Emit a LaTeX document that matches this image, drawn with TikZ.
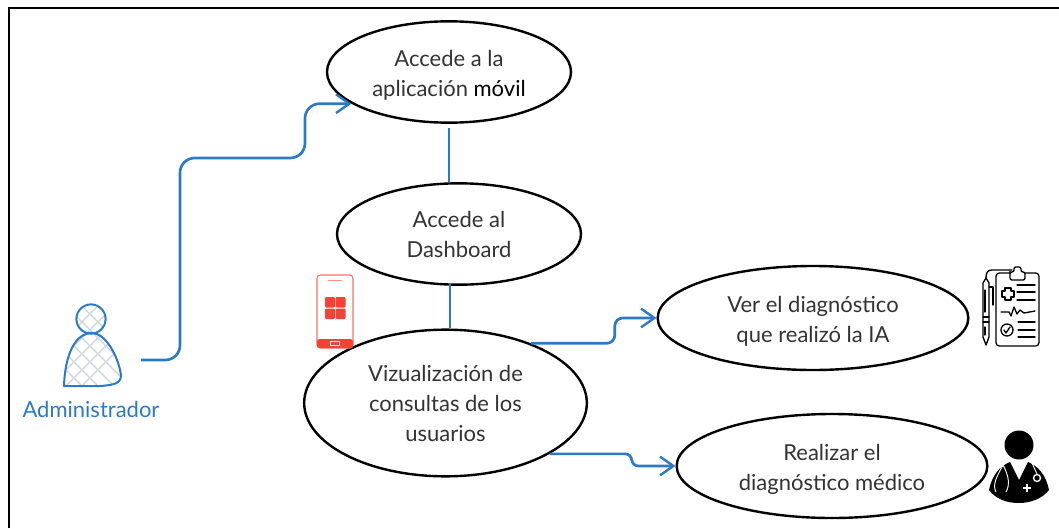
\documentclass[tikz,border=0pt]{standalone}
\usepackage{fontspec}
\setmainfont{Lato}
\usepackage{xcolor}
\usetikzlibrary{shapes.geometric, arrows.meta, positioning, calc}

\definecolor{azul}{HTML}{2A7AC8}
\definecolor{texto}{HTML}{333333}
\definecolor{rojo}{HTML}{F44336}
\definecolor{trama}{HTML}{CDD2DA}

\newcommand{\bajo}{\rule{0pt}{17pt}}

\tikzset{
    caso/.style={draw, ellipse, line width=1.8pt, inner sep=0pt, text=texto, align=center,
        font=\fontsize{16.5}{22.5}\selectfont},
    linea/.style={draw=azul, line width=2pt},
    flecha/.style={linea, -{Straight Barb[length=10pt, width=14pt, line width=1.8pt]}},
    icono/.style={line width=1pt, line cap=round, line join=round}
}

\begin{document}
\begin{tikzpicture}[x=0.75pt, y=-0.75pt]
    \useasboundingbox (0,0) rectangle (1059,528);

    % Frame
    \draw[line width=1.8pt] (9,528) -- (9,8) -- (1059,8);

    % Use cases
    \node[caso, minimum width=183pt, minimum height=76pt] (acceso) at (449,72) {\bajo Accede a la\\aplicación {\color{black}móvil}};
    \node[caso, minimum width=183pt, minimum height=76pt] (dashboard) at (459,234) {Accede al\\Dashboard};
    \node[caso, minimum width=212pt, minimum height=110pt] (consultas) at (445.5,403) {Vizualización de\\consultas de los\\usuarios};
    \node[caso, minimum width=233pt, minimum height=78pt] (ver) at (813,318) {\bajo Ver el diagnóstico\\que realizó la IA};
    \node[caso, minimum width=233pt, minimum height=78pt] (realizar) at (832,466) {\bajo Realizar el\\diagnóstico médico};

    % Actor
    \node[text=azul, font=\fontsize{16.5}{20}\selectfont] (admin) at (91,409.5) {Administrador};
    \coordinate (adminsalida) at (141,360);
    \begin{scope}
        \clip (64,386) .. controls (65,355) and (75,333) .. (92,333) .. controls (105,333) and (118,355) .. (121,375)
            .. controls (121,383) and (115,385) .. (100,386) -- cycle
            (91,319) circle (14.6);
        \foreach \d in {-20,-4,...,108} {
            \draw[trama, line width=0.9pt] (\d,300) -- ++(100,100);
            \draw[trama, line width=0.9pt] (\d+60,300) -- ++(-100,100);
        }
    \end{scope}
    \draw[azul, line width=1.5pt, line join=round] (64,386) .. controls (65,355) and (75,333) .. (92,333)
        .. controls (105,333) and (118,355) .. (121,375) .. controls (121,383) and (115,385) .. (100,386) -- cycle;
    \draw[azul, line width=1.5pt] (91,319) circle (14.6);

    % Relationships
    \draw[flecha, rounded corners=11pt] (adminsalida) -- ++(39,0) -- ++(0,-202) -- ++(125,0) |- (acceso.198);
    \draw[linea, shorten <=3pt] (acceso.south) -- (acceso.south |- dashboard.north);
    \draw[linea] ($(dashboard.south)+(-9,-3)$) -- ($(consultas.north)+(4.5,0)$);
    \draw[flecha, rounded corners=6pt] (consultas.35) -- ++(84,0) |- (ver.west);
    \draw[flecha, rounded corners=5pt] (consultas.-26) -- ++(82,0) |- (realizar.west);

    % Phone
    \draw[rojo!75, line width=0.8pt, rounded corners=2.5pt] (317,275) rectangle (353,348);
    \fill[rojo, rounded corners=2pt] (317,339) rectangle (353,348);
    \draw[white, line width=0.6pt] (330,341.5) rectangle (339,345.5);
    \draw[rojo!60, line width=0.7pt] (328,280) -- (342,280);
    \foreach \x/\y in {325/297, 335.5/297, 325/308.5, 335.5/308.5} {
        \fill[rojo, rounded corners=0.8pt] (\x,\y) rectangle ++(10,10.5);
    }

    % Clipboard
    \draw[icono, rounded corners=2.5pt] (996,273) rectangle (1039,346);
    \draw[icono, fill=white, rounded corners=1.5pt] (1010,273) -- (1010,272) -- (1014,272) -- (1014,267) -- (1021,267)
        -- (1021,272) -- (1025,272) -- (1025,280) -- (1010,280) -- cycle;
    \draw[icono, line width=1.2pt] (1005,288) -- (1011,288) -- (1011,291) -- (1014,291) -- (1014,297) -- (1011,297)
        -- (1011,300) -- (1005,300) -- (1005,297) -- (1002,297) -- (1002,291) -- (1005,291) -- cycle;
    \foreach \y/\xa in {285/1017, 292/1017, 300/1017, 322/1018, 330/1018, 337/1018} {
        \draw[icono] (\xa,\y) -- (1035,\y);
    }
    \draw[icono] (1001,312) -- (1009,312) -- (1011,316) -- (1014,307) -- (1017,314) -- (1020,310) -- (1024,313) -- (1035,311);
    \draw[icono] (1007,330) circle (6);
    \draw[icono] (1004,330) -- (1006,333) -- (1010,327);
    % Pen
    \draw[icono] (983,283) -- (986,278) -- (989,283) -- (989,337) -- (986,345) -- (983,337) -- cycle;
    \draw[icono] (983,317) -- (989,317) (983,322) -- (989,322) (985,290) -- (985,312) (985,327) -- (985,335);
    \draw[icono] (986,278) .. controls (986,272) and (988,270) .. (992,270) -- (1012,270);
    \draw[icono] (989,287) -- (993,287) -- (993,305);

    % Doctor
    \fill (1019,445) circle (14.5);
    \fill (1010,462) -- (1019,480) -- (1028,462) .. controls (1038,466) and (1046,475) .. (1049,490)
        .. controls (1042,499) and (1030,503) .. (1019,503) .. controls (1006,503) and (996,499) .. (989,490)
        .. controls (992,475) and (1000,466) .. (1010,462) -- cycle;
    \draw[white, line width=0.7pt] (1003,465) .. controls (997,476) and (992,485) .. (996,492) (1003,465)
        .. controls (1009,476) and (1010,485) .. (1006,492);
    \draw[white, line width=0.7pt] (1032,463) -- (1037,474);
    \draw[white, line width=1pt, fill=black] (1037,478) circle (3.5);
    \draw[white, line width=1.6pt] (1027,484) -- (1027,492) (1023,488) -- (1031,488);
\end{tikzpicture}
\end{document}
